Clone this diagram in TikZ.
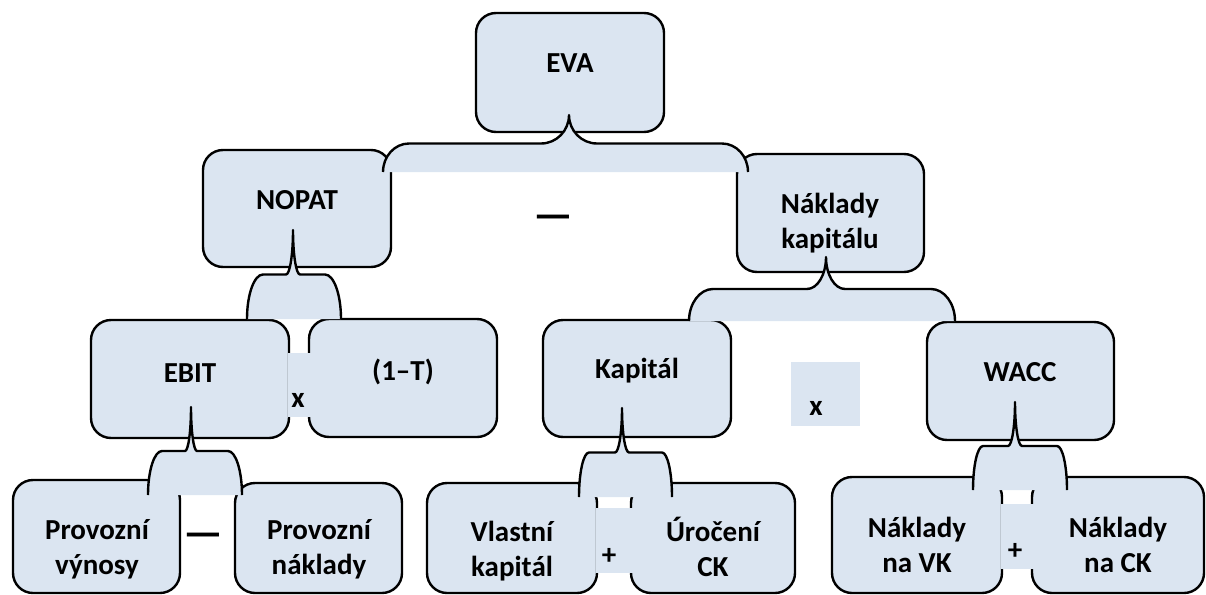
\documentclass[tikz,border=0pt]{standalone}
\usepackage{fontspec}
\setmainfont{Carlito}
\definecolor{boxblue}{HTML}{DBE5F1}
\tikzset{
  box/.style={draw=black, line width=2.4pt, fill=boxblue, rounded corners=20pt, inner sep=0pt},
  txt/.style={font=\fontsize{29}{35}\selectfont\bfseries, inner sep=0pt, align=center, anchor=base},
  dashtxt/.style={font=\fontsize{44}{44}\selectfont\bfseries, inner sep=0pt, anchor=base},
  bline/.style={draw=black, line width=2.4pt, line join=round, line cap=butt},
  patch/.style={fill=boxblue, draw=none}
}
% box: name, x1, y1, x2, y2 (pixel coordinates, y downward)
\newcommand{\bx}[5]{\node[box, minimum width={#4-#2}, minimum height={#5-#3}] (#1) at ({(#2+#4)/2},{(#3+#5)/2}) {};}
% brace opening downward: xL, xR, xtip, ytip, ybot, r_end, r_mid
\newcommand{\brc}[7]{%
  \pgfmathsetmacro{\bym}{(#4+#5)/2}%
  \pgfmathsetmacro{\bh}{0.5523*(#5-#4)/2}%
  \def\bpath{(#1,#5) .. controls (#1,{#5-\bh}) and ({#1+#6*0.4477},\bym) .. ({#1+#6},\bym)
    -- ({#3-#7},\bym) .. controls ({#3-#7*0.4477},\bym) and (#3,{#4+\bh}) .. (#3,#4)
    .. controls (#3,{#4+\bh}) and ({#3+#7*0.4477},\bym) .. ({#3+#7},\bym)
    -- ({#2-#6},\bym) .. controls ({#2-#6*0.4477},\bym) and (#2,{#5-\bh}) .. (#2,#5)}%
  \fill[boxblue] \bpath -- cycle;
  \draw[bline] \bpath;
}
\begin{document}
\begin{tikzpicture}[x=1pt,y=-1pt]
\useasboundingbox (0,0) rectangle (1206,594);
% boxes
\bx{EVA}{476}{13}{664}{132}
\bx{NOPAT}{203}{150}{391}{267}
\bx{NK}{737}{154}{924}{272}
\bx{EBIT}{91}{320}{289}{438}
\bx{OneT}{309}{319}{497}{437}
\bx{KAP}{543}{320}{731}{437}
\bx{WACC}{927}{322}{1114}{440}
\bx{PV}{13}{480}{180}{593}
\bx{PN}{235}{483}{402}{593}
\bx{VK}{427}{483}{597}{593}
\bx{UC}{631}{483}{795}{593}
\bx{NVK}{832}{477}{1002}{593}
\bx{NCK}{1032}{477}{1204}{593}
% braces
\brc{383}{748}{569}{115}{172}{26}{28}
\brc{247}{341}{293}{230}{319}{16}{7}
\brc{689}{955}{826}{257}{321}{24}{19}
\brc{148}{242}{191}{407}{495}{14}{6}
\brc{579}{672}{622}{408}{497}{10}{7}
\brc{973}{1067}{1015}{402}{490}{10}{7}
% operator patches
\fill[patch] (287.5,353) rectangle (310.5,417);
\fill[patch] (791,362) rectangle (860,426);
\fill[patch] (595.5,508) rectangle (632.5,573);
\fill[patch] (1000.5,504) rectangle (1033.5,569);
% texts
\node[txt] (tEVA) at (570,73) {EVA};
\node[txt] (tNOPAT) at (297,209) {NOPAT};
\node[txt] (tNK) at (830,248) {Náklady\\kapitálu};
\node[txt] (tEBIT) at (190,382) {EBIT};
\node[txt] (tOneT) at (403,380) {(1–T)};
\node[txt] (tKAP) at (637,378) {Kapitál};
\node[txt] (tWACC) at (1020,381) {WACC};
\node[txt] (tPV) at (97,574) {Provozní\\výnosy};
\node[txt] (tPN) at (319,574) {Provozní\\náklady};
\node[txt] (tVK) at (512,576) {Vlastní\\kapitál};
\node[txt] (tUC) at (713,576) {Úročení\\CK};
\node[txt] (tNVK) at (917,572) {Náklady\\na VK};
\node[txt] (tNCK) at (1118,572) {Náklady\\na CK};
\node[txt] (opX1) at (298,407) {x};
\node[txt] (opX2) at (816,415) {x};
\node[txt] (opP1) at (609,564) {+};
\node[txt] (opP2) at (1015,559) {+};
\node[dashtxt] (opM1) at (553,229) {—};
\node[dashtxt] (opM2) at (203,547) {—};
\end{tikzpicture}
\end{document}
